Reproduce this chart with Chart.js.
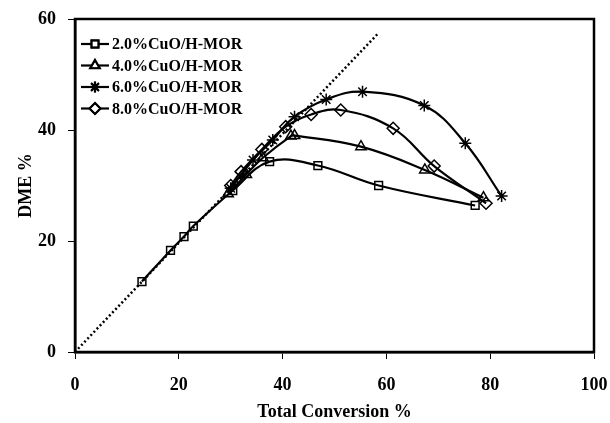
<!DOCTYPE html>
<html>
<head>
<meta charset="utf-8">
<script src="https://cdn.jsdelivr.net/npm/chart.js@4/dist/chart.umd.min.js"></script>
<style>
  html, body { margin: 0; padding: 0; background: #fff; }
  #wrap { width: 610px; height: 423px; position: relative; }
</style>
</head>
<body>
<div id="wrap"><canvas id="chart"></canvas></div>
<script>
// values (x = total conversion %, y = DME %)
const cu2x = [12.9, 18.4, 21.0, 22.8, 30.4, 37.5, 46.8, 58.5, 77.1];
const cu2y = [12.7, 18.3, 20.8, 22.7, 29.1, 34.3, 33.6, 30.0, 26.4];
const cu4x = [29.5, 33.0, 36.2, 41.6, 42.3, 55.1, 67.4, 78.7];
const cu4y = [28.5, 32.0, 35.0, 38.9, 39.0, 37.0, 32.8, 27.8];
const cu6x = [30.0, 34.3, 38.1, 42.3, 48.4, 55.4, 67.3, 75.2, 82.2];
const cu6y = [29.5, 34.6, 38.2, 42.4, 45.5, 46.9, 44.4, 37.6, 28.1];
const cu8x = [30.0, 32.0, 36.0, 40.6, 45.5, 51.2, 61.3, 69.2, 79.2];
const cu8y = [30.0, 32.5, 36.5, 40.6, 42.8, 43.6, 40.3, 33.5, 26.8];
const diagX = [0, 58.5];
const diagY = [0, 57.5];
const labels = ["2.0%CuO/H-MOR", "4.0%CuO/H-MOR", "6.0%CuO/H-MOR", "8.0%CuO/H-MOR"];
const markers = ["rect", "triangle", "star", "rectRot"];

function pts(xs, ys) {
  return xs.map((x, i) => ({ x: x, y: ys[i] }));
}

const FONT = "'Liberation Serif', 'Times New Roman', serif";

const series = [[cu2x, cu2y], [cu4x, cu4y], [cu6x, cu6y], [cu8x, cu8y]].map((s, i) => ({
  label: labels[i],
  data: pts(s[0], s[1]),
  borderColor: "#000",
  backgroundColor: "#fff",
  borderWidth: 2.2,
  tension: 0.4,
  pointStyle: markers[i],
  pointRadius: markers[i] === "rect" ? 5.5 : 6,
  pointBorderWidth: 1.5,
  pointBorderColor: "#000",
  pointBackgroundColor: "rgba(255,255,255,0)"
}));

series.push({
  label: "diag",
  data: pts(diagX, diagY),
  borderColor: "#000",
  borderWidth: 2.5,
  borderDash: [2, 2.5],
  pointRadius: 0,
  tension: 0
});

// frame round the plot area + legend with line and marker samples
const framePlugin = {
  id: "frame",
  afterDraw(chart) {
    const ctx = chart.ctx;
    const a = chart.chartArea;
    ctx.save();
    ctx.strokeStyle = "#000";
    ctx.lineWidth = 2.5;
    ctx.strokeRect(a.left, a.top, a.right - a.left, a.bottom - a.top);

    ctx.font = "bold 16px " + FONT;
    ctx.textBaseline = "middle";
    for (let i = 0; i < labels.length; i++) {
      const y = 44 + i * 21.5;
      ctx.lineWidth = 2.2;
      ctx.beginPath();
      ctx.moveTo(81, y);
      ctx.lineTo(109, y);
      ctx.stroke();
      ctx.fillStyle = "#fff";
      Chart.helpers.drawPoint(ctx, {
        pointStyle: markers[i],
        radius: markers[i] === "rect" ? 5 : 5.5,
        borderWidth: 1.5
      }, 95, y);
      ctx.lineWidth = 1.5;
      ctx.stroke();
      ctx.fillStyle = "#000";
      ctx.fillText(labels[i], 112, y + 1);
    }
    ctx.restore();
  }
};

new Chart(document.getElementById("chart"), {
  type: "line",
  data: { datasets: series },
  options: {
    responsive: true,
    maintainAspectRatio: false,
    animation: false,
    layout: { padding: { left: 0, right: 16, top: 19, bottom: 0 } },
    plugins: {
      legend: { display: false },
      tooltip: { enabled: false }
    },
    scales: {
      x: {
        type: "linear",
        min: 0,
        max: 100,
        ticks: {
          stepSize: 20,
          color: "#000",
          padding: 16,
          font: { family: FONT, size: 18, weight: "bold" }
        },
        grid: { drawOnChartArea: false, drawTicks: true, tickLength: 7, color: "#000", lineWidth: 1 },
        border: { display: true, color: "#000", width: 2.5 },
        title: {
          display: true,
          text: "Total Conversion %",
          color: "#000",
          padding: { top: 4, bottom: 0 },
          font: { family: FONT, size: 18, weight: "bold" }
        },
        afterFit(scale) {
          scale.height = 71;
          scale.paddingLeft = 0;
          scale.paddingRight = 0;
        }
      },
      y: {
        type: "linear",
        min: 0,
        max: 60,
        ticks: {
          stepSize: 20,
          color: "#000",
          padding: 12,
          font: { family: FONT, size: 18, weight: "bold" }
        },
        grid: { drawOnChartArea: false, drawTicks: true, tickLength: 7, color: "#000", lineWidth: 1 },
        border: { display: true, color: "#000", width: 2.5 },
        title: {
          display: true,
          text: "DME %",
          color: "#000",
          padding: { bottom: 4, top: 16 },
          font: { family: FONT, size: 18, weight: "bold" }
        },
        afterFit(scale) {
          scale.width = 75;
          scale.paddingTop = 0;
          scale.paddingBottom = 0;
        }
      }
    }
  },
  plugins: [framePlugin]
});
</script>
</body>
</html>
